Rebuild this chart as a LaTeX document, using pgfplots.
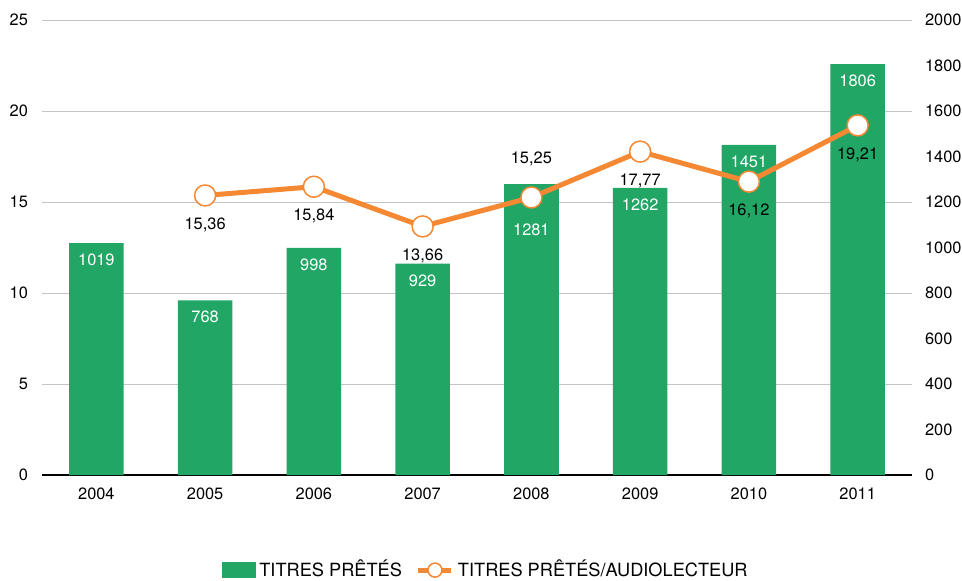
\documentclass[border=0pt]{standalone}
\usepackage{pgfplots}
\pgfplotsset{compat=1.18}
\usepackage{fontspec}
\setmainfont{TeX Gyre Heros}
\definecolor{barg}{RGB}{33,166,101}
\definecolor{orng}{RGB}{245,136,51}
\definecolor{gridc}{RGB}{195,195,200}
\begin{document}
\begin{tikzpicture}
\pgfplotsset{
  base/.style={width=435pt, height=227.5pt, scale only axis, at={(0,0)}, anchor=south west,
    xmin=-0.5, xmax=7.5,
    /pgf/number format/assume math mode=true,
    /pgf/number format/1000 sep={},
    tick style={draw=none}, major tick length=0pt,
    ticklabel style={font=\fontsize{8.2}{10}\selectfont},
  }
}
\begin{axis}[base, ymin=0, ymax=2000,
  axis x line*=bottom, axis y line*=right,
  y axis line style={draw=none}, x axis line style={black, line width=0.75pt},
  xtick={0,1,2,3,4,5,6,7},
  xticklabels={2004,2005,2006,2007,2008,2009,2010,2011},
  ytick={0,400,800,1200,1600,2000},
  extra y ticks={200,600,1000,1400,1800},
  extra y tick style={grid=none},
  ymajorgrids, grid style={gridc, line width=0.5pt},
  yticklabel style={xshift=3pt},
  xticklabel style={yshift=-3.0pt},
  ybar, bar width=0.5,
]
\addplot[fill=barg, draw=none, bar shift=0pt, nodes near coords, nodes near coords align=below,
  every node near coord/.append style={text=white, font=\fontsize{8.2}{10}\selectfont, yshift=-2.0pt}]
  coordinates {(0,1019) (1,768) (2,998) (3,929) (5,1262) (6,1451) (7,1806)};
\addplot[fill=barg, draw=none, bar shift=0pt, nodes near coords, nodes near coords align=below,
  every node near coord/.append style={text=white, font=\fontsize{8.2}{10}\selectfont, yshift=-16.5pt}]
  coordinates {(4,1281)};
\end{axis}
\begin{axis}[base, ymin=0, ymax=25,
  axis y line*=left, axis x line=none,
  y axis line style={draw=none},
  ytick={0,5,10,15,20,25},
  yticklabel style={xshift=-3.5pt},
  legend style={draw=none, fill=none, at={(0.511,-0.209)}, anchor=center,
    legend columns=2, font=\fontsize{9.1}{11}\selectfont,
    /tikz/every even column/.append style={column sep=5pt}},
]
\addlegendimage{legend image code/.code={\fill[barg] (0pt,-3.7pt) rectangle (16.5pt,3.7pt);}}
\addlegendentry{TITRES PRÊTÉS}
\addplot[orng, line width=2.5pt, mark=*, mark size=5.25pt,
  mark options={fill=white, draw=orng, line width=0.75pt},
  legend image code/.code={\draw[orng, line width=2.5pt] (0pt,0pt) -- (16.5pt,0pt);
    \draw[orng, fill=white, line width=0.75pt] (8.25pt,0pt) circle (3.5pt);}]
  coordinates {(1,15.36) (2,15.84) (3,13.66) (4,15.25) (5,17.77) (6,16.12) (7,19.21)};
\addlegendentry{TITRES PRÊTÉS/AUDIOLECTEUR}
\addplot[draw=none, forget plot, point meta=explicit symbolic, nodes near coords, nodes near coords align=below,
  every node near coord/.append style={text=black, font=\fontsize{8.2}{10}\selectfont, yshift=-7.5pt}]
  coordinates {(1,15.36) [15,36] (2,15.84) [15,84] (3,13.66) [13,66] (5,17.77) [17,77] (6,16.12) [16,12] (7,19.21) [19,21]};
\addplot[draw=none, forget plot, point meta=explicit symbolic, nodes near coords, nodes near coords align=above,
  every node near coord/.append style={text=black, font=\fontsize{8.2}{10}\selectfont, yshift=12.0pt}]
  coordinates {(4,15.25) [15,25]};
\end{axis}
\pgfresetboundingbox
\path[use as bounding box] (-21pt,-52.5pt) rectangle (460pt,237.5pt);
\end{tikzpicture}
\end{document}
